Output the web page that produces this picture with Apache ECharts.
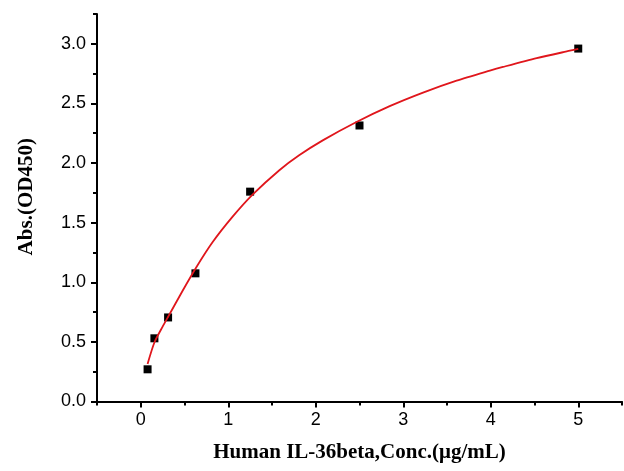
<!DOCTYPE html>
<html>
<head>
<meta charset="utf-8">
<script src="https://cdn.jsdelivr.net/npm/echarts@6/dist/echarts.min.js"></script>
<style>html,body{margin:0;padding:0;background:#fff}#c{width:624px;height:471px}</style>
</head>
<body>
<div id="c"></div>
<script>
// Measured standard points
var concX = [0.078, 0.156, 0.3125, 0.625, 1.25, 2.5, 5];
var absY  = [0.27, 0.53, 0.705, 1.075, 1.76, 2.315, 2.96];
// Fitted curve
var curveX = [0.078, 0.156, 0.25, 0.324, 0.477, 0.63, 0.82, 1.05, 1.278, 1.584, 1.81, 2.08, 2.46, 2.845, 3.226, 3.61, 3.99, 4.14, 4.525, 4.905, 5.0];
var curveY = [0.315, 0.495, 0.628, 0.725, 0.927, 1.12, 1.335, 1.55, 1.735, 1.94, 2.065, 2.19, 2.342, 2.477, 2.591, 2.691, 2.775, 2.806, 2.88, 2.942, 2.957];
// Tick labels
var xMajor = [0, 1, 2, 3, 4, 5];
var xMinor = [-0.5, 0.5, 1.5, 2.5, 3.5, 4.5, 5.5];
var yMajor = [0, 0.5, 1.0, 1.5, 2.0, 2.5, 3.0];
var yMinor = [0.25, 0.75, 1.25, 1.75, 2.25, 2.75, 3.25];
var xTitle = 'Human IL-36beta,Conc.(\u03bcg/mL)';
var yTitle = 'Abs.(OD450)';

var chart = echarts.init(document.getElementById('c'), null, {renderer: 'canvas'});
var pts = concX.map(function (x, i) { return [x, absY[i]]; });
var cur = curveX.map(function (x, i) { return [x, curveY[i]]; });
var axisFont = {color: '#000', fontFamily: 'Liberation Sans, Arial, sans-serif', fontSize: 18};
var titleFont = {color: '#000', fontFamily: 'Liberation Serif, Times New Roman, serif', fontSize: 21, fontWeight: 'bold'};
var XMIN = -0.5, XMAX = 5.5, YMIN = 0, YMAX = 3.25;
chart.setOption({
  animation: false,
  backgroundColor: '#fff',
  grid: {left: 97, right: 2, top: 14, bottom: 69.5, containLabel: false},
  xAxis: [{
    type: 'value', min: XMIN, max: XMAX, interval: 0.5,
    name: xTitle, nameLocation: 'middle', nameGap: 41, nameTextStyle: titleFont,
    axisLine: {show: true, onZero: false, lineStyle: {color: '#000', width: 2}},
    axisTick: {show: true, length: 6, customValues: xMajor, lineStyle: {color: '#000', width: 2}},
    axisLabel: Object.assign({margin: 10, customValues: xMajor,
      formatter: function (v) { return String(v); }}, axisFont),
    splitLine: {show: false}
  }, {
    type: 'value', min: XMIN, max: XMAX, interval: 0.5, position: 'bottom',
    axisLine: {show: false, onZero: false},
    axisTick: {show: true, length: 4, customValues: xMinor, lineStyle: {color: '#000', width: 2}},
    axisLabel: {show: false},
    splitLine: {show: false}
  }],
  yAxis: [{
    type: 'value', min: YMIN, max: YMAX, interval: 0.25,
    name: yTitle, nameLocation: 'middle', nameGap: 60,
    nameTextStyle: Object.assign({padding: [0, 0, 0, 22]}, titleFont),
    axisLine: {show: true, onZero: false, lineStyle: {color: '#000', width: 2}},
    axisTick: {show: true, length: 6, customValues: yMajor, lineStyle: {color: '#000', width: 2}},
    axisLabel: Object.assign({margin: 11, customValues: yMajor,
      formatter: function (v) { return v.toFixed(1); }}, axisFont),
    splitLine: {show: false}
  }, {
    type: 'value', min: YMIN, max: YMAX, interval: 0.25, position: 'left',
    axisLine: {show: false, onZero: false},
    axisTick: {show: true, length: 4, customValues: yMinor, lineStyle: {color: '#000', width: 2}},
    axisLabel: {show: false},
    splitLine: {show: false}
  }],
  series: [
    {type: 'scatter', data: pts, symbol: 'rect', symbolSize: 8,
     itemStyle: {color: '#000', opacity: 1}, z: 2},
    {type: 'line', data: cur, smooth: 0.25, showSymbol: false, symbol: 'none',
     lineStyle: {color: '#e0161c', width: 1.8}, z: 3}
  ]
});
</script>
</body>
</html>
